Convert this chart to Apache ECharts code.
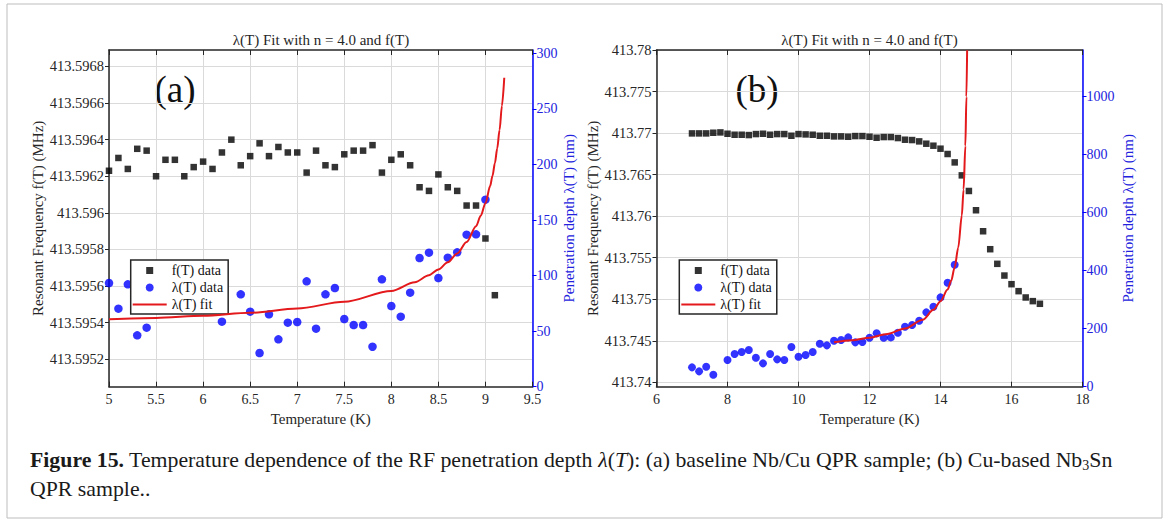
<!DOCTYPE html>
<html><head><meta charset="utf-8">
<script src="https://cdn.jsdelivr.net/npm/echarts@6/dist/echarts.min.js"></script>
<style>html,body{margin:0;padding:0;background:#fff}#c{width:1167px;height:522px}</style>
</head><body><div id="c"></div>
<script>
// ---------- Panel (a): baseline Nb/Cu ----------
const tempA_f = [5.0,5.1,5.2,5.3,5.4,5.5,5.6,5.7,5.8,5.9,6.0,6.1,6.2,6.3,6.4,6.5,6.6,6.7,6.8,6.9,7.0,7.1,7.2,7.3,7.4,7.5,7.6,7.7,7.8,7.9,8.0,8.1,8.2,8.3,8.4,8.5,8.6,8.7,8.8,8.9,9.0,9.1];
const freqA = [413.59623,413.5963,413.59624,413.59635,413.59634,413.5962,413.59629,413.59629,413.5962,413.59625,413.59628,413.59624,413.59633,413.5964,413.59626,413.59631,413.59638,413.59631,413.59636,413.59633,413.59633,413.59622,413.59634,413.59626,413.59625,413.59632,413.59634,413.59634,413.59637,413.59622,413.59629,413.59632,413.59626,413.59614,413.59612,413.59621,413.59614,413.59612,413.59604,413.59604,413.59586,413.59555];
const tempA_l = [5.0,5.1,5.2,5.3,5.4,6.2,6.4,6.5,6.6,6.7,6.8,6.9,7.0,7.1,7.2,7.3,7.4,7.5,7.6,7.7,7.8,7.9,8.0,8.1,8.2,8.3,8.4,8.5,8.6,8.7,8.8,8.9,9.0];
const lambdaA = [93.3,70.2,92.1,46.2,53.1,58.5,83.1,67.5,30.3,65.1,42.6,57.6,58.2,94.8,52.2,83.1,88.8,60.9,55.5,55.5,36,96.6,72.6,63,84.6,115.8,120.6,97.8,116.1,120.9,136.8,137.1,168.3];
const tempA_fit = [5.0,5.5,6.0,6.5,7.0,7.5,8.0,8.25,8.4,8.5,8.6,8.7,8.8,8.9,8.95,9.0,9.05,9.075,9.1,9.125,9.15,9.175,9.2];
const lambdaA_fit = [60.6,61.9,63.8,66.5,70.4,76.4,86.2,94.0,100.3,105.5,111.9,119.9,130.2,144.5,153.8,165,180.5,189.8,201,214.3,231,252.6,278];
const ticksA_freq = [413.5952,413.5954,413.5956,413.5958,413.596,413.5962,413.5964,413.5966,413.5968];
const ticksA_lambda = [0,50,100,150,200,250,300];

// ---------- Panel (b): Cu-based Nb3Sn ----------
const tempB_f = [7.0,7.2,7.4,7.6,7.8,8.0,8.2,8.4,8.6,8.8,9.0,9.2,9.4,9.6,9.8,10.0,10.2,10.4,10.6,10.8,11.0,11.2,11.4,11.6,11.8,12.0,12.2,12.4,12.6,12.8,13.0,13.2,13.4,13.6,13.8,14.0,14.2,14.4,14.6,14.8,15.0,15.2,15.4,15.6,15.8,16.0,16.2,16.4,16.6,16.8];
const freqB = [413.76996,413.76996,413.76996,413.77004,413.77008,413.76992,413.7698,413.7698,413.76976,413.76988,413.76992,413.7698,413.76988,413.76988,413.76968,413.76988,413.76984,413.7698,413.76968,413.76968,413.7696,413.7696,413.76956,413.76964,413.76964,413.76956,413.76944,413.76952,413.76952,413.7694,413.7692,413.76916,413.769,413.76872,413.76848,413.76812,413.76748,413.76647,413.76491,413.76303,413.76071,413.75818,413.75602,413.75426,413.75285,413.75181,413.75097,413.75021,413.74977,413.74945];
const tempB_l = [7.0,7.2,7.4,7.6,8.0,8.2,8.4,8.6,8.8,9.0,9.2,9.4,9.6,9.8,10.0,10.2,10.4,10.6,10.8,11.0,11.2,11.4,11.6,11.8,12.0,12.2,12.4,12.6,12.8,13.0,13.2,13.4,13.6,13.8,14.0,14.2,14.4];
const lambdaB = [66.7,52.9,69,41.4,92,112.6,119.5,126.4,100,80.5,112.6,94.3,92,136.8,103.4,109.2,119.5,148.3,142.5,158.6,161,170,152.9,154,169,184,169,170,186.2,206.9,212.6,227.6,256.3,275.9,308,358.6,420.7];
const tempB_fit = [11.0,11.5,12.0,12.5,13.0,13.5,13.8,14.0,14.2,14.3,14.4,14.5,14.6,14.65,14.7,14.73,14.75];
const lambdaB_fit = [153,160,169,182,201,231,265,295,335,365,412,480,590,680,830,1000,1160];
const ticksB_freq = [413.74,413.745,413.75,413.755,413.76,413.765,413.77,413.775,413.78];
const ticksB_lambda = [0,200,400,600,800,1000];

const SERIF = '"Liberation Serif", "Times New Roman", serif';
const AX = '#262626', BLUE = '#0000ff', BLUE_TXT = '#2222dd', GRID = '#dadada', RED = '#e3191c';

function pairs(xs, ys) { return xs.map((x, i) => [x, ys[i]]); }

function xAxes(gi, min, max, interval) {
  return [{
    type: 'value', gridIndex: gi, position: 'bottom', min, max, interval,
    name: 'Temperature (K)', nameLocation: 'middle', nameGap: 22,
    nameTextStyle: {fontFamily: SERIF, fontSize: 15, color: AX},
    axisLine: {show: true, onZero: false, lineStyle: {color: AX, width: 1.5}},
    axisTick: {show: true, inside: true, length: 5, lineStyle: {color: AX}},
    axisLabel: {fontFamily: SERIF, fontSize: 14, color: AX, margin: 6},
    splitLine: {show: true, lineStyle: {color: GRID, width: 1}}
  }, {
    type: 'value', gridIndex: gi, position: 'top', min, max, interval,
    axisLine: {show: true, onZero: false, lineStyle: {color: AX, width: 1.5}},
    axisTick: {show: true, inside: true, length: 5, lineStyle: {color: AX}},
    axisLabel: {show: false}, splitLine: {show: false}
  }];
}

function yAxes(gi, fMin, fMax, fTicks, fDec, lMax, lTicks, gapL, gapR) {
  return [{
    type: 'value', gridIndex: gi, position: 'left', min: fMin, max: fMax, scale: true,
    name: 'Resonant Frequency f(T) (MHz)', nameLocation: 'middle', nameGap: gapL,
    nameTextStyle: {fontFamily: SERIF, fontSize: 15, color: AX},
    axisLine: {show: true, onZero: false, lineStyle: {color: AX, width: 1.5}},
    axisTick: {show: true, inside: false, length: 4, customValues: fTicks, lineStyle: {color: AX}},
    axisLabel: {customValues: fTicks, fontFamily: SERIF, fontSize: 14.5, color: AX, margin: 5,
      formatter: v => String(Number(Number(v).toFixed(fDec)))},
    splitLine: {show: true, lineStyle: {color: GRID, width: 1}}
  }, {
    type: 'value', gridIndex: gi, position: 'right', min: 0, max: lMax,
    name: 'Penetration depth λ(T) (nm)', nameLocation: 'middle', nameGap: gapR,
    nameTextStyle: {fontFamily: SERIF, fontSize: 15, color: BLUE_TXT},
    axisLine: {show: true, onZero: false, lineStyle: {color: BLUE, width: 1.5}},
    axisTick: {show: true, inside: false, length: 4, customValues: lTicks, lineStyle: {color: BLUE}},
    axisLabel: {customValues: lTicks, fontFamily: SERIF, fontSize: 14, color: BLUE_TXT, margin: 4,
      formatter: v => String(Math.round(Number(v)))},
    splitLine: {show: false}
  }];
}

const squareIcon = 'path://M0,0M34,8M13.5,0.5L20.5,0.5L20.5,7.5L13.5,7.5Z';
const lineIcon = 'path://M0,0M34,8M0,3L34,3L34,5L0,5Z';
function legend(left) {
  return {
    left: left, top: 260, orient: 'vertical', selectedMode: false,
    padding: [3, 5, 2, 2], itemWidth: 34, itemHeight: 8, itemGap: 2,
    backgroundColor: '#fff', borderColor: AX, borderWidth: 1.5, borderRadius: 0,
    textStyle: {fontFamily: SERIF, fontSize: 14, color: '#111', lineHeight: 15},
    data: [{name: 'f(T) data', icon: squareIcon}, {name: 'λ(T) data', icon: 'circle'},
           {name: 'λ(T) fit', icon: lineIcon, itemStyle: {color: RED}}]
  };
}

function seriesFor(xi, yiL, yiR, tf, f, tl, l, tfit, lfit, sq, dot) {
  return [{
    name: 'f(T) data', type: 'scatter', xAxisIndex: xi, yAxisIndex: yiL,
    symbol: 'rect', symbolSize: sq, itemStyle: {color: '#000'}, data: pairs(tf, f), z: 3
  }, {
    name: 'λ(T) data', type: 'scatter', xAxisIndex: xi, yAxisIndex: yiR,
    symbol: 'circle', symbolSize: dot, itemStyle: {color: BLUE}, data: pairs(tl, l), z: 3
  }, {
    name: 'λ(T) fit', type: 'line', xAxisIndex: xi, yAxisIndex: yiR,
    symbol: 'none', showSymbol: false, smooth: 0.3, smoothMonotone: 'x', clip: true,
    lineStyle: {color: RED, width: 2}, itemStyle: {color: RED}, data: pairs(tfit, lfit), z: 4
  }];
}

const txt = (x, y, text, size, extra) => ({type: 'text', x, y, silent: true,
  style: Object.assign({text, fontFamily: SERIF, fontSize: size, fill: AX, align: 'center', verticalAlign: 'middle'}, extra || {})});

const CAP = 21.8;
const option = {
  animation: false,
  backgroundColor: '#fff',
  grid: [
    {left: 109, right: 634.5, top: 50, bottom: 135.3, containLabel: false},
    {left: 656.5, right: 84.5, top: 50, bottom: 135.3, containLabel: false}
  ],
  xAxis: [...xAxes(0, 5, 9.5, 0.5), ...xAxes(1, 6, 18, 2)],
  yAxis: [...yAxes(0, 413.59505, 413.59689, ticksA_freq, 4, 303, ticksA_lambda, 57, 28),
          ...yAxes(1, 413.73947, 413.78, ticksB_freq, 3, 1161, ticksB_lambda, 54, 38)],
  legend: [legend(130.7), legend(679.3)],
  series: [
    ...seriesFor(0, 0, 1, tempA_f, freqA, tempA_l, lambdaA, tempA_fit, lambdaA_fit, 6.5, 8.5),
    ...seriesFor(2, 2, 3, tempB_f, freqB, tempB_l, lambdaB, tempB_fit, lambdaB_fit, 6.5, 8)
  ],
  graphic: [
    {type: 'rect', silent: true, shape: {x: 7, y: 4, width: 1155, height: 514},
     style: {fill: 'none', stroke: '#bdbdbd', lineWidth: 1}},
    txt(321, 39.5, 'λ(T) Fit with n = 4.0 and f(T)', 15),
    txt(869.5, 39.5, 'λ(T) Fit with n = 4.0 and f(T)', 15),
    txt(175, 89, '(a)', 37, {fill: '#111'}),
    txt(757, 89, '(b)', 37, {fill: '#111'}),
    {type: 'text', x: 30, y: 460, silent: true, style: {
      text: '{b|Figure 15.} Temperature dependence of the RF penetration depth {i|λ}({i|T}): (a) baseline Nb/Cu QPR sample; (b) Cu-based Nb{s|3}Sn',
      fontFamily: SERIF, fontSize: CAP, fill: '#1a1a1a', align: 'left', verticalAlign: 'middle',
      rich: {
        b: {fontFamily: SERIF, fontSize: CAP, fontWeight: 'bold', fill: '#1a1a1a'},
        i: {fontFamily: SERIF, fontSize: CAP, fontStyle: 'italic', fill: '#1a1a1a'},
        s: {fontFamily: SERIF, fontSize: 14, fill: '#1a1a1a', padding: [10, 0, 0, 0]}
      }}},
    {type: 'text', x: 30, y: 489, silent: true, style: {
      text: 'QPR sample..', fontFamily: SERIF, fontSize: CAP, fill: '#1a1a1a', align: 'left', verticalAlign: 'middle'}}
  ]
};

const chart = echarts.init(document.getElementById('c'), null, {renderer: 'svg'});
chart.setOption(option);
</script>
</body></html>
